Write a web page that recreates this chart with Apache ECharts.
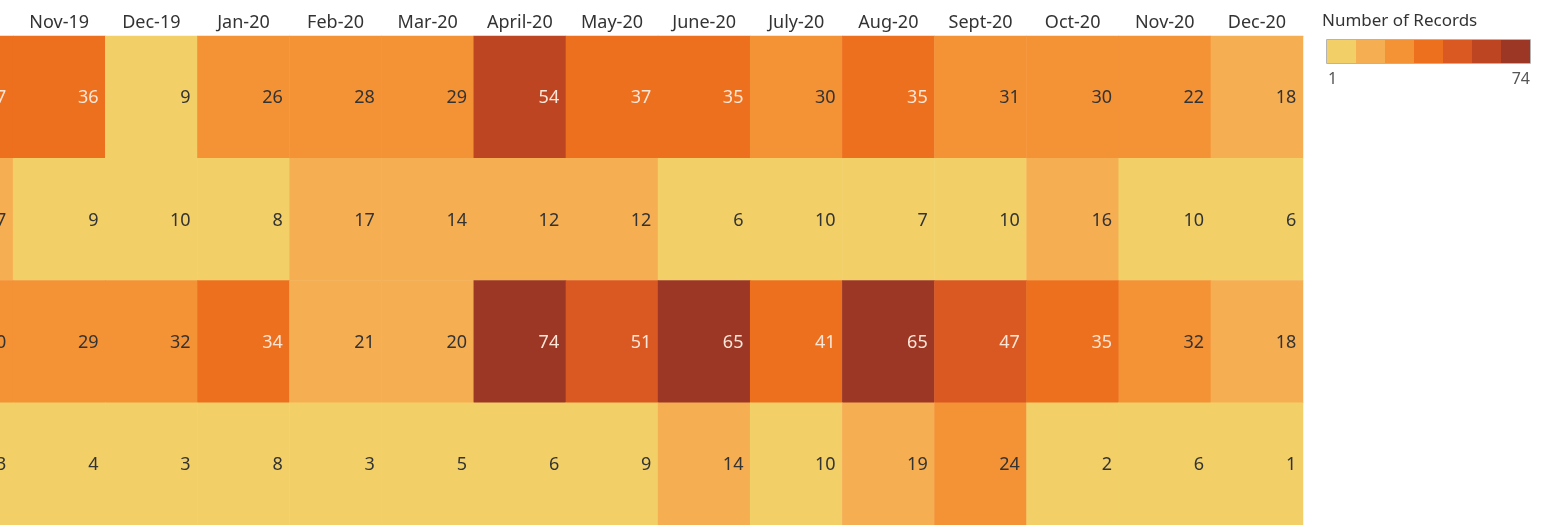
<!DOCTYPE html>
<html>
<head>
<meta charset="utf-8">
<script src="https://cdn.jsdelivr.net/npm/echarts@6/dist/echarts.min.js"></script>
<style>
    html, body {margin: 0; padding: 0; background: #fff; overflow: hidden;}
    /* 第一列只露出一部分，所以整个画布向左挪 */
    #main {width: 1624px; height: 525px; margin-left: -79px;}
</style>
</head>
<body>
<div id="main"></div>
<script>
// 月份（第一列只露出一小部分）
let months = ['Oct-19', 'Nov-19', 'Dec-19', 'Jan-20', 'Feb-20', 'Mar-20', 'April-20', 'May-20',
    'June-20', 'July-20', 'Aug-20', 'Sept-20', 'Oct-20', 'Nov-20', 'Dec-20'];
// 行名在图里看不到
let rows = ['Row 1', 'Row 2', 'Row 3', 'Row 4'];

let row1 = [37, 36, 9, 26, 28, 29, 54, 37, 35, 30, 35, 31, 30, 22, 18];
let row2 = [17, 9, 10, 8, 17, 14, 12, 12, 6, 10, 7, 10, 16, 10, 6];
let row3 = [30, 29, 32, 34, 21, 20, 74, 51, 65, 41, 65, 47, 35, 32, 18];
let row4 = [3, 4, 3, 8, 3, 5, 6, 9, 14, 10, 19, 24, 2, 6, 1];

let legendMin = 1, legendMax = 74;
let palette = ['#f2d067', '#f6ae53', '#f49236', '#ed701e', '#da5922', '#bd4522', '#9c3726'];

let font = '"Noto Sans", sans-serif';
let shift = 79; // 画布左移的像素

// 拼热力图数据
let dataArray = [];
[row1, row2, row3, row4].forEach(function (row, r) {
    for (let i = 0; i < row.length; i++) {
        dataArray.push({
            value: [i, r, row[i]],
            label: {color: row[i] >= 34 ? '#fbe6d8' : '#333333'}
        });
    }
});

let myChart = echarts.init(document.getElementById('main'));
let option = {
    animation: false,
    grid: {
        left: 0,
        right: 242,
        top: 36,
        bottom: -1
    },
    xAxis: {
        type: 'category',
        position: 'top',
        data: months,
        axisLine: {show: true, lineStyle: {color: '#d4d4d4', width: 1}},
        axisTick: {show: false},
        axisLabel: {
            color: '#333333',
            fontFamily: font,
            fontSize: 18,
            margin: 4
        },
        splitLine: {show: false}
    },
    yAxis: {
        type: 'category',
        data: rows,
        inverse: true,
        axisLine: {show: false},
        axisTick: {show: false},
        axisLabel: {show: false},
        splitLine: {show: false}
    },
    visualMap: {
        type: 'piecewise',
        min: legendMin,
        max: legendMax,
        splitNumber: 7,
        orient: 'horizontal',
        left: 1327 + shift,
        top: 40,
        padding: 0,
        itemWidth: 29,
        itemHeight: 23,
        itemGap: 0,
        itemSymbol: 'rect',
        showLabel: false,
        selectedMode: false,
        inRange: {color: palette}
    },
    graphic: [
        {
            type: 'rect',
            shape: {x: 1326.5 + shift, y: 39.5, width: 204, height: 24},
            style: {fill: 'none', stroke: '#b4b4b4', lineWidth: 1},
            z: 100
        },
        {
            type: 'text',
            left: 1322 + shift,
            top: 13,
            style: {text: 'Number of Records', fill: '#333333', font: '17px ' + font}
        },
        {
            type: 'text',
            left: 1328 + shift,
            top: 71,
            style: {text: String(legendMin), fill: '#555555', font: '16px ' + font}
        },
        {
            type: 'text',
            right: 15,
            top: 71,
            style: {text: String(legendMax), fill: '#555555', font: '16px ' + font}
        }
    ],
    series: [
        {
            type: 'heatmap',
            data: dataArray,
            label: {
                show: true,
                position: 'insideRight',
                distance: 7,
                offset: [0, 1],
                fontFamily: font,
                fontSize: 18
            },
            itemStyle: {borderWidth: 0},
            emphasis: {disabled: true}
        }
    ]
};
myChart.setOption(option);
</script>
</body>
</html>
